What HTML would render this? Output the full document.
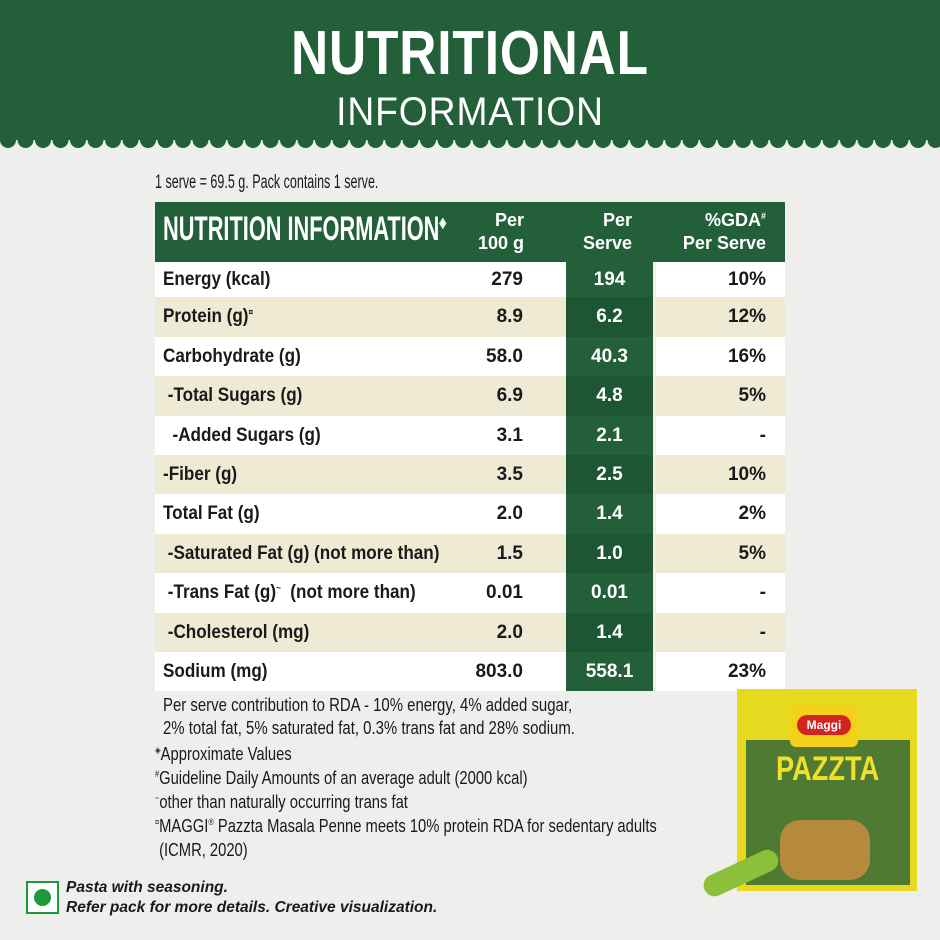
<!DOCTYPE html>
<html><head><meta charset="utf-8"><style>
*{margin:0;padding:0;box-sizing:border-box}
body{width:940px;height:940px;background:#eeeeec;position:relative;overflow:hidden;font-family:"Liberation Sans",sans-serif;color:#1a1a1a}
.hdr{position:absolute;left:0;top:0;width:940px;height:140px;background:#23603a}
.t1{position:absolute;top:18px;width:940px;text-align:center;color:#fff;font-weight:bold;font-size:62px;letter-spacing:1px;transform:scaleX(.83)}
.t2{position:absolute;top:90px;width:940px;text-align:center;color:#fff;font-size:40px;letter-spacing:1px;transform:scaleX(.93)}
.a{position:absolute;white-space:nowrap;transform-origin:left top}
.row{position:absolute;left:155px;width:630px;height:39.4px}
.cell{position:absolute;top:0;height:100%;font-size:19px;font-weight:bold;line-height:39px;white-space:nowrap}
.lab{transform:scaleX(.9);transform-origin:left center}
sup{font-size:9px;line-height:0;vertical-align:7px}
</style></head><body>
<div class="hdr"></div>
<svg style="position:absolute;left:0;top:130px" width="940" height="24" id="sc"></svg>
<div class="t1">NUTRITIONAL</div>
<div class="t2">INFORMATION</div>
<div class="a" style="left:155px;top:172px;font-size:19px;transform:scaleX(.66)">1 serve = 69.5 g. Pack contains 1 serve.</div>
<div class="a" style="left:155px;top:202px;width:630px;height:60px;background:#23603a"></div>
<div class="a" style="left:163px;top:210px;color:#fff;font-weight:bold;font-size:34px;transform:scaleX(.64)">NUTRITION INFORMATION<sup style="font-size:14px;vertical-align:13px">◈</sup></div>
<div class="a" style="left:440px;top:209px;width:84px;text-align:right;color:#fff;font-weight:bold;font-size:18px;line-height:23px">Per<br>100 g</div>
<div class="a" style="left:556px;top:209px;width:76px;text-align:right;color:#fff;font-weight:bold;font-size:18px;line-height:23px">Per<br>Serve</div>
<div class="a" style="left:653px;top:209px;width:113px;text-align:right;color:#fff;font-weight:bold;font-size:18px;line-height:23px">%GDA<sup>#</sup><br>Per Serve</div>
<div id="rows"></div>
<script>
var s='';for(var x=8;x<950;x+=17.5){s+='<circle cx="'+x+'" cy="10" r="8" fill="#23603a"/>';}
document.getElementById('sc').innerHTML='<rect width="940" height="10" fill="#23603a"/>'+s;
var d=[["Energy (kcal)","279","194","10%"],["Protein (g)<sup>¤</sup>","8.9","6.2","12%"],["Carbohydrate (g)","58.0","40.3","16%"],["&nbsp;-Total Sugars (g)","6.9","4.8","5%"],["&nbsp;&nbsp;-Added Sugars (g)","3.1","2.1","-"],["-Fiber (g)","3.5","2.5","10%"],["Total Fat (g)","2.0","1.4","2%"],["&nbsp;-Saturated Fat (g) (not more than)","1.5","1.0","5%"],["&nbsp;-Trans Fat (g)<sup>~</sup>&nbsp; (not more than)","0.01","0.01","-"],["&nbsp;-Cholesterol (mg)","2.0","1.4","-"],["Sodium (mg)","803.0","558.1","23%"]];
var h="";for(var i=0;i<d.length;i++){var y=i==0?262:258+i*39.4;var hh=i==0?35.4:39.4;var bg=i%2?"#eeead3":"#ffffff";var g=i%2?"#1e5634":"#23603a";var lh='line-height:'+hh+'px';
h+='<div class="row" style="top:'+y+'px;height:'+hh+'px;background:'+bg+'"><div class="cell lab" style="left:8px;'+lh+'">'+d[i][0]+'</div><div class="cell" style="left:300px;width:68px;text-align:right;'+lh+'">'+d[i][1]+'</div><div class="cell" style="left:411px;width:87px;background:'+g+';color:#fff;text-align:center;'+lh+'">'+d[i][2]+'</div><div class="cell" style="left:498px;width:3px;background:#eeeeec"></div><div class="cell" style="left:500px;width:111px;text-align:right;'+lh+'">'+d[i][3]+'</div></div>';}
document.getElementById("rows").innerHTML=h;
</script>
<div class="a" style="left:163px;top:694px;font-size:18px;line-height:23px;transform:scaleX(.83)">Per serve contribution to RDA - 10% energy, 4% added sugar,<br>2% total fat, 5% saturated fat, 0.3% trans fat and 28% sodium.</div>
<div class="a" style="left:155px;top:742px;font-size:18px;line-height:24px;transform:scaleX(.82)"><sup>◈</sup>Approximate Values<br><sup>#</sup>Guideline Daily Amounts of an average adult (2000 kcal)<br><sup>~</sup>other than naturally occurring trans fat<br><sup>¤</sup>MAGGI<sup>®</sup> Pazzta Masala Penne meets 10% protein RDA for sedentary adults<br>&nbsp;(ICMR, 2020)</div>
<div class="a" style="left:26px;top:881px;width:33px;height:33px;border:2px solid #1a9a3a;background:#fff"></div>
<div class="a" style="left:34px;top:889px;width:17px;height:17px;border-radius:50%;background:#1a9a3a"></div>
<div class="a" style="left:66px;top:878px;font-size:15.5px;font-weight:bold;font-style:italic;line-height:20px">Pasta with seasoning.<br>Refer pack for more details. Creative visualization.</div>
<div class="a" style="left:737px;top:689px;width:180px;height:202px;background:#e6d920"></div>
<div class="a" style="left:746px;top:740px;width:164px;height:145px;background:#4e7a32"></div>
<div class="a" style="left:790px;top:705px;width:68px;height:42px;background:#f3d11a;border-radius:6px"></div>
<div class="a" style="left:797px;top:715px;width:54px;height:20px;background:#d22420;border-radius:10px;color:#fff;font-size:12px;text-align:center;font-weight:bold;line-height:20px">Maggi</div>
<div class="a" style="left:776px;top:750px;color:#f1e02a;font-weight:bold;font-size:34px;transform:scaleX(.8)">PAZZTA</div>
<div class="a" style="left:780px;top:820px;width:90px;height:60px;background:#b58a3c;border-radius:20px"></div>
<div class="a" style="left:700px;top:880px;width:80px;height:22px;background:#8cbf3a;border-radius:11px;transform:rotate(-25deg)"></div>
</body></html>
